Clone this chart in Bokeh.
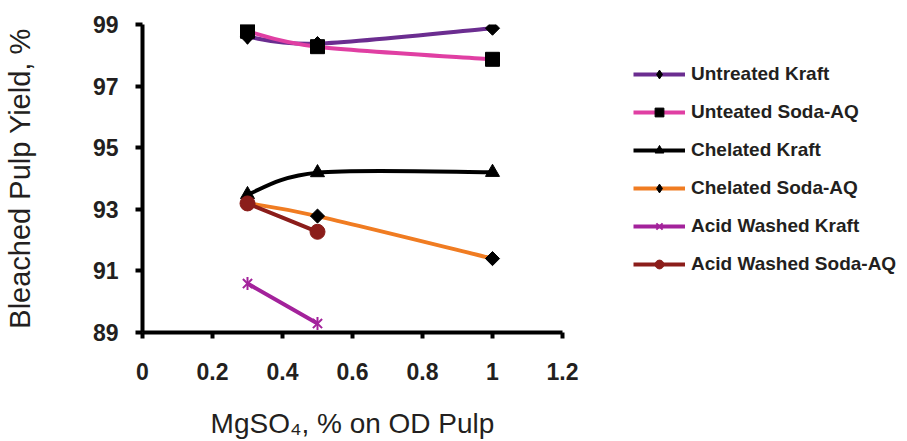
import numpy as np
from bokeh.plotting import figure
from bokeh.models import (ColumnDataSource, Legend, LegendItem, FixedTicker,
                          CDSView, IndexFilter, Range1d)
from bokeh.embed import file_html
from bokeh.resources import INLINE

# ---------------- data ----------------
x_ticks = [0, 0.2, 0.4, 0.6, 0.8, 1.0, 1.2]
x_tick_labels = ["0", "0.2", "0.4", "0.6", "0.8", "1", "1.2"]
y_ticks = [89, 91, 93, 95, 97, 99]

dose_three = [0.3, 0.5, 1.0]
dose_two = [0.3, 0.5]

untreated_kraft = [98.6, 98.38, 98.88]
untreated_soda_aq = [98.78, 98.28, 97.87]
chelated_kraft = [93.48, 94.19, 94.2]
chelated_soda_aq = [93.2, 92.78, 91.4]
acid_washed_kraft = [90.59, 89.29]
acid_washed_soda_aq = [93.19, 92.27]

names = ["Untreated Kraft", "Unteated Soda-AQ", "Chelated Kraft",
         "Chelated Soda-AQ", "Acid Washed Kraft", "Acid Washed Soda-AQ"]

FONT = "Liberation Sans"
TXT = "#231f20"

p = figure(frame_width=420, frame_height=308, output_backend="svg",
           toolbar_location=None,
           x_range=Range1d(0, 1.2), y_range=Range1d(89, 99),
           min_border_left=141, min_border_right=330,
           min_border_top=24, min_border_bottom=107)
p.outline_line_color = None
p.grid.visible = False
p.background_fill_color = "white"

for ax in (p.xaxis[0], p.yaxis[0]):
    ax.axis_line_width = 4
    ax.axis_line_color = "black"
    ax.major_tick_line_width = 4
    ax.major_tick_line_color = "black"
    ax.major_tick_in = 0
    ax.minor_tick_line_color = None
    ax.major_label_text_font = FONT
    ax.major_label_text_font_style = "bold"
    ax.major_label_text_font_size = "23px"
    ax.major_label_text_color = TXT
    ax.axis_label_text_font = FONT
    ax.axis_label_text_font_style = "normal"
    ax.axis_label_text_color = TXT

p.xaxis.ticker = FixedTicker(ticks=x_ticks)
p.xaxis.major_label_overrides = {t: l for t, l in zip(x_ticks, x_tick_labels)}
p.xaxis.major_tick_out = 6
p.xaxis.major_label_standoff = 24
p.xaxis.axis_label = "MgSO\u2084, % on OD Pulp"
p.xaxis.axis_label_text_font_size = "28px"
p.xaxis.axis_label_standoff = 25

p.yaxis.ticker = FixedTicker(ticks=y_ticks)
p.yaxis.major_tick_out = 7
p.yaxis.major_label_standoff = 17
p.yaxis.axis_label = "Bleached Pulp Yield, %"
p.yaxis.axis_label_text_font_size = "29px"
p.yaxis.axis_label_standoff = 54


def smooth_segments(xs, ys):
    """Cubic Bezier segments through the data points (Excel-style smoothing)."""
    n = len(xs)
    P = np.column_stack([xs, ys]).astype(float)
    seg = dict(x0=[], y0=[], x1=[], y1=[], cx0=[], cy0=[], cx1=[], cy1=[])
    for i in range(n - 1):
        p_prev = P[max(i - 1, 0)]
        p0 = P[i]
        p1 = P[i + 1]
        p_next = P[min(i + 2, n - 1)]
        c0 = p0 + (p1 - p_prev) / 6.0
        c1 = p1 - (p_next - p0) / 6.0
        seg["x0"].append(p0[0]); seg["y0"].append(p0[1])
        seg["x1"].append(p1[0]); seg["y1"].append(p1[1])
        seg["cx0"].append(c0[0]); seg["cy0"].append(c0[1])
        seg["cx1"].append(c1[0]); seg["cy1"].append(c1[1])
    return seg


# name, x, y, line colour, marker, marker colour, marker size
series = [
    (names[0], dose_three, untreated_kraft, "#6b2d90", "rdiamond", "black", 10),
    (names[1], dose_three, untreated_soda_aq, "#e03fa3", "square", "black", 14),
    (names[2], dose_three, chelated_kraft, "#000000", "triangle", "black", 14),
    (names[3], dose_three, chelated_soda_aq, "#f07c22", "rdiamond", "black", 10),
    (names[4], dose_two, acid_washed_kraft, "#a3229b", "star6", "#a3229b", 13),
    (names[5], dose_two, acid_washed_soda_aq, "#8b1d1a", "circle", "#8b1d1a", 15),
]

items = []
for name, xs, ys, lc, mk, mc, ms in series:
    src = ColumnDataSource(dict(x=xs, y=ys))
    seg = ColumnDataSource(smooth_segments(xs, ys))
    p.bezier(x0="x0", y0="y0", x1="x1", y1="y1", cx0="cx0", cy0="cy0",
             cx1="cx1", cy1="cy1", source=seg, line_color=lc, line_width=4)
    # renderers used only for the legend swatch (single point, hidden under the marks)
    leg_line = p.line(x="x", y="y", source=src, line_color=lc, line_width=4,
                      view=CDSView(filter=IndexFilter([0])))
    rs = [leg_line]
    if mk == "star6":
        r1 = p.scatter(x="x", y="y", source=src, marker="x", size=ms,
                       line_color=mc, line_width=2)
        r2 = p.scatter(x="x", y="y", source=src, marker="dash", size=ms,
                       angle=np.pi / 2, line_color=mc, line_width=2)
        rs += [r1, r2]
    elif mk == "rdiamond":
        leg_d = p.scatter(x="x", y="y", source=src, marker="diamond", size=15,
                          fill_color=mc, line_color=mc,
                          view=CDSView(filter=IndexFilter([0])))
        p.scatter(x="x", y="y", source=src, marker="square", size=ms,
                  angle=np.pi / 4, fill_color=mc, line_color=mc, line_width=1)
        rs.append(leg_d)
    else:
        r = p.scatter(x="x", y="y", source=src, marker=mk, size=ms,
                      fill_color=mc, line_color=mc, line_width=1)
        rs.append(r)
    items.append(LegendItem(label=name, renderers=rs))

legend = Legend(items=items, location=(71, 57))
legend.border_line_color = None
legend.background_fill_alpha = 0
legend.padding = 0
legend.margin = 0
legend.spacing = 16
legend.glyph_width = 52
legend.glyph_height = 22
legend.label_height = 22
legend.label_standoff = 6
legend.label_text_font = FONT
legend.label_text_font_style = "bold"
legend.label_text_font_size = "19px"
legend.label_text_color = TXT
p.add_layout(legend, "right")

open("out.html", "w").write(file_html(p, INLINE))
